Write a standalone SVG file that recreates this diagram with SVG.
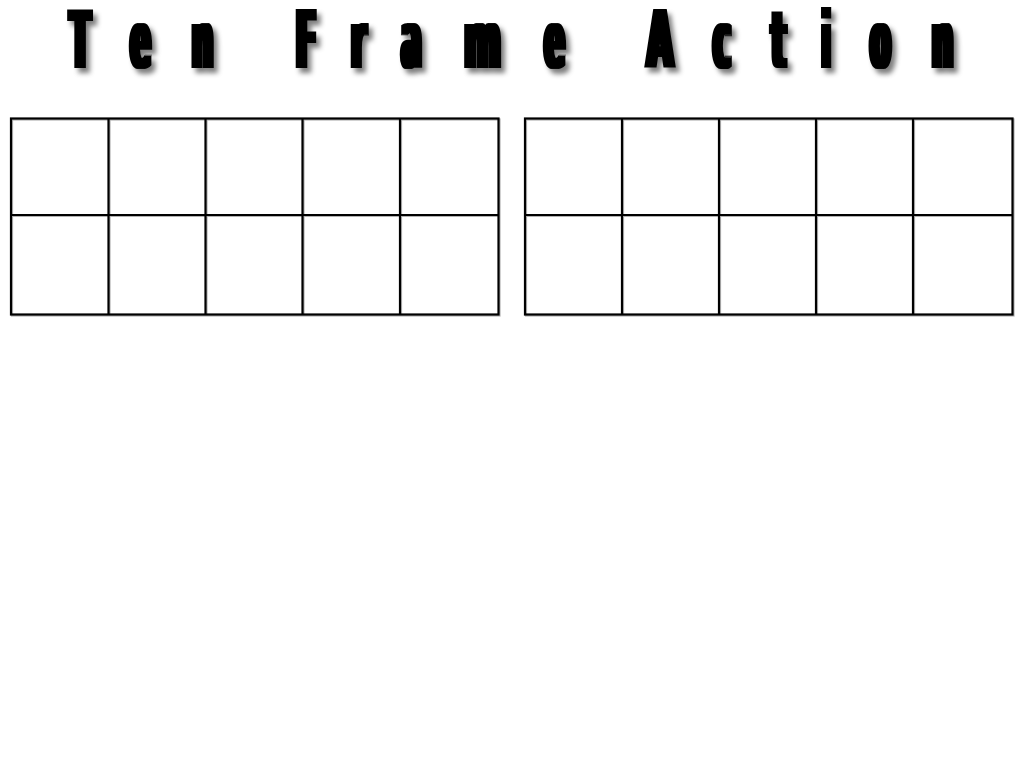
<svg xmlns="http://www.w3.org/2000/svg" width="1024" height="768" viewBox="0 0 1024 768">
  <defs>
    <filter id="titleFx" filterUnits="userSpaceOnUse" x="0" y="0" width="1024" height="100">
      <feMorphology in="SourceGraphic" operator="dilate" radius="3 0.4" result="thick"/>
      <feGaussianBlur in="thick" stdDeviation="2.5" result="blur"/>
      <feOffset in="blur" dx="4" dy="5" result="off"/>
      <feFlood flood-color="#000" flood-opacity="0.5"/>
      <feComposite in2="off" operator="in" result="shadow"/>
      <feMerge>
        <feMergeNode in="shadow"/>
        <feMergeNode in="thick"/>
      </feMerge>
    </filter>
    <filter id="gridFx" filterUnits="userSpaceOnUse" x="0" y="100" width="1024" height="230">
      <feDropShadow dx="1" dy="1" stdDeviation="0.6" flood-color="#000" flood-opacity="0.3"/>
    </filter>
  </defs>
  <style>
    .ttl { font-family: "DejaVu Sans", "Liberation Sans", sans-serif; font-weight: bold; font-size: 80px; fill: #000; text-anchor: middle; }
    .frame { fill: none; stroke: #000; stroke-width: 2.2; }
    .cell { stroke: #000; stroke-width: 2.2; fill: none; }
  </style>
  <rect width="1024" height="768" fill="#fff"/>

  <g id="title" filter="url(#titleFx)">
    <text class="ttl" transform="translate(80,67.5) scale(0.37,1)">T</text>
    <text class="ttl" transform="translate(140.5,67.5) scale(0.37,1)">e</text>
    <text class="ttl" transform="translate(202.5,67.5) scale(0.37,1)">n</text>
    <text class="ttl" transform="translate(306,67.5) scale(0.37,1)">F</text>
    <text class="ttl" transform="translate(358.5,67.5) scale(0.37,1)">r</text>
    <text class="ttl" transform="translate(411.5,67.5) scale(0.37,1)">a</text>
    <text class="ttl" transform="translate(482.5,67.5) scale(0.44,1)">m</text>
    <text class="ttl" transform="translate(554.5,67.5) scale(0.37,1)">e</text>
    <text class="ttl" transform="translate(660,67.5) scale(0.42,1)">A</text>
    <text class="ttl" transform="translate(722,67.5) scale(0.37,1)">c</text>
    <text class="ttl" transform="translate(778.5,67.5) scale(0.37,1)">t</text>
    <text class="ttl" transform="translate(826,67.5) scale(0.3,1)">i</text>
    <text class="ttl" transform="translate(880.5,67.5) scale(0.37,1)">o</text>
    <text class="ttl" transform="translate(942.5,67.5) scale(0.37,1)">n</text>
  </g>

  <g id="ten-frame-1" filter="url(#gridFx)">
    <rect class="frame" x="11" y="118.5" width="487.5" height="196"/>
    <path class="cell" d="M11 215 H498.5 M108.5 118.5 V314.5 M205.5 118.5 V314.5 M302.5 118.5 V314.5 M400 118.5 V314.5"/>
  </g>

  <g id="ten-frame-2" filter="url(#gridFx)">
    <rect class="frame" x="525" y="118.5" width="487.5" height="196"/>
    <path class="cell" d="M525 215 H1012.5 M622 118.5 V314.5 M719 118.5 V314.5 M816 118.5 V314.5 M913 118.5 V314.5"/>
  </g>
</svg>
